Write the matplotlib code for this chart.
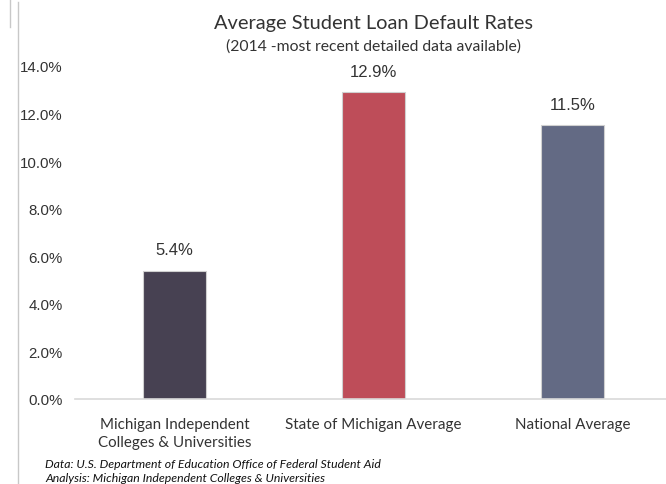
import matplotlib
matplotlib.use("Agg")
import matplotlib.pyplot as plt
from matplotlib.lines import Line2D
from matplotlib.ticker import FuncFormatter, MultipleLocator

# Chart data
categories = ["Michigan Independent\nColleges & Universities",
              "State of Michigan Average",
              "National Average"]
default_rates = [5.4, 12.9, 11.5]
bar_colors = ["#474152", "#BE4D59", "#636A84"]

TITLE = "Average Student Loan Default Rates"
SUBTITLE = "(2014 -most recent detailed data available)"
SOURCE_LINES = ["Data: U.S. Department of Education Office of Federal Student Aid",
                "Analysis: Michigan Independent Colleges & Universities"]

LABEL_FONT = "Lato"
NUM_FONT = "Liberation Sans"

fig = plt.figure(figsize=(6.66, 4.85), dpi=100)
ax = fig.add_axes([75 / 666, 85 / 485, 597 / 666, 333 / 485])

x = list(range(len(categories)))
ax.bar(x, default_rates, width=0.316, color=bar_colors,
       edgecolor="#d0d0d0", linewidth=0.8, zorder=2)

for xi, v in zip(x, default_rates):
    ax.text(xi, v + 0.55, f"{v:.1f}%", ha="center", va="bottom",
            fontsize=12, family=NUM_FONT, color="#333333")

ax.set_xlim(-0.5, 2.5)
ax.set_ylim(0, 14)
ax.yaxis.set_major_locator(MultipleLocator(2))
ax.yaxis.set_major_formatter(FuncFormatter(lambda v, _: f"{v:.1f}%"))
ax.tick_params(axis="y", length=0, pad=9, labelsize=10.8, labelcolor="#333333")
ax.tick_params(axis="x", length=0, pad=13, labelsize=10.9, labelcolor="#333333")
for lab in ax.get_yticklabels():
    lab.set_family(NUM_FONT)
ax.set_xticks(x)
ax.set_xticklabels(categories, family=LABEL_FONT, linespacing=1.35)

for side in ["top", "right", "left"]:
    ax.spines[side].set_visible(False)
ax.spines["bottom"].set_color("#d9d9d9")
ax.spines["bottom"].set_linewidth(1.2)

fig.text(373.5 / 666, 1 - 23 / 485, TITLE, ha="center", va="center",
         fontsize=14.4, family=LABEL_FONT, color="#333333")
fig.text(373.5 / 666, 1 - 47 / 485, SUBTITLE, ha="center", va="center",
         fontsize=11.3, family=LABEL_FONT, color="#333333")
fig.text(45 / 666, 1 - 465 / 485, SOURCE_LINES[0], ha="left", va="center",
         fontsize=8.8, family=LABEL_FONT, style="italic", color="#111111")
fig.text(45 / 666, 1 - 479 / 485, SOURCE_LINES[1], ha="left", va="center",
         fontsize=8.8, family=LABEL_FONT, style="italic", color="#111111")

# page border remnants on the left
fig.add_artist(Line2D([17.5 / 666, 17.5 / 666], [0, 1 - 3 / 485],
                      color="#c8c8c8", linewidth=1))
fig.add_artist(Line2D([9.5 / 666, 9.5 / 666], [1 - 28 / 485, 1],
                      color="#c8c8c8", linewidth=1))

fig.savefig("out.png", dpi=100)
